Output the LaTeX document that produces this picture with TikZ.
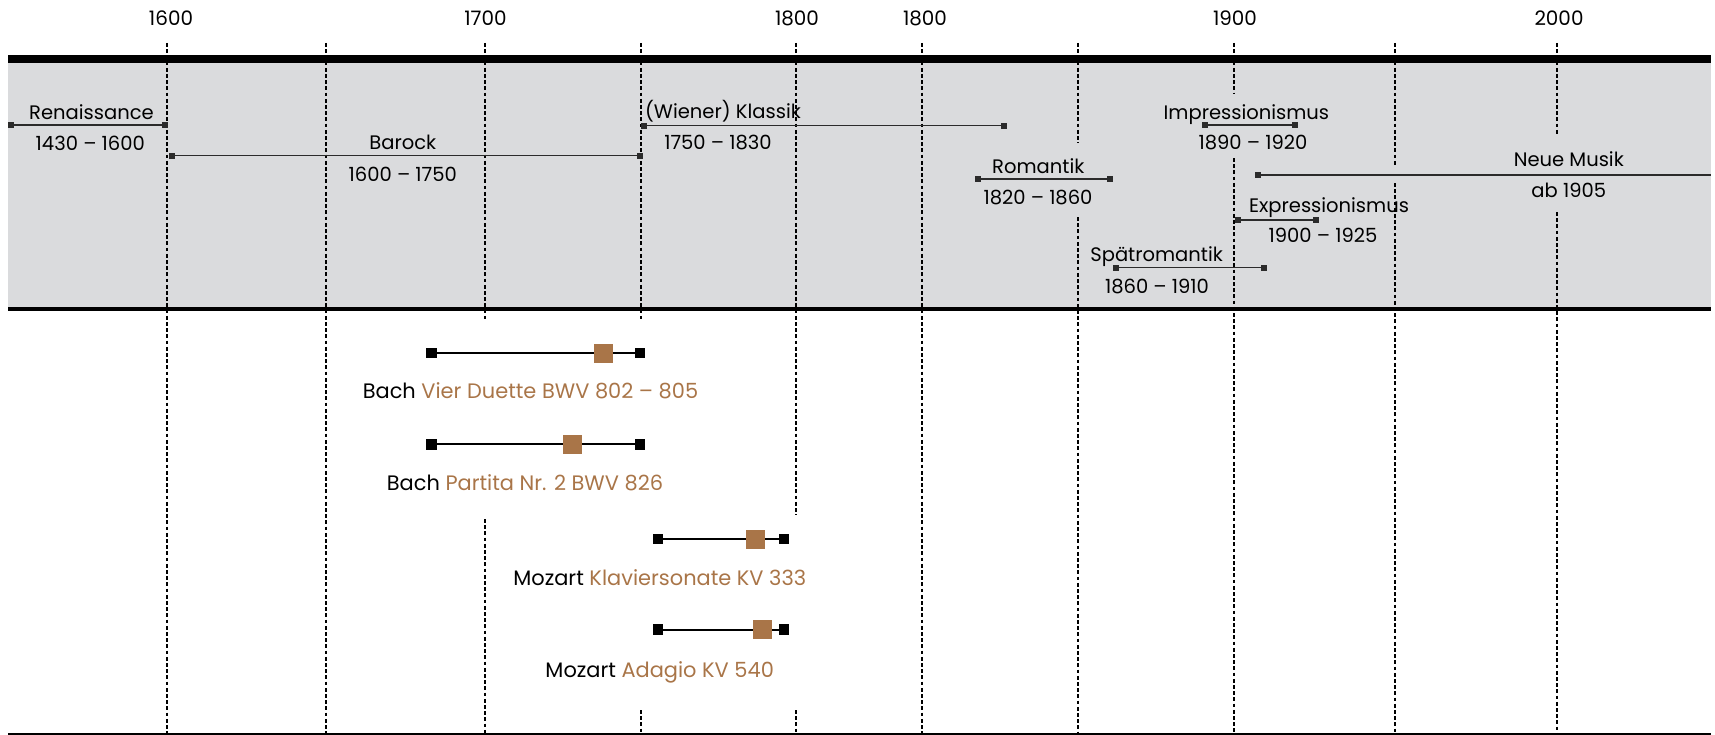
\documentclass[tikz,border=0pt]{standalone}
\usepackage{fontspec}
\setmainfont{Poppins}
\definecolor{brn}{HTML}{A97548}
\definecolor{bandgray}{HTML}{DADBDD}
\definecolor{per}{HTML}{2B2B2B}
\begin{document}
\begin{tikzpicture}[x=1bp,y=-1bp,
  gridline/.style={dash pattern=on 3.8bp off 2.4bp, line width=1.2bp},
  tick/.style={font=\fontsize{20}{24}\selectfont, anchor=base, inner sep=0},
  plabel/.style={font=\fontsize{19.6}{24}\selectfont, anchor=base, inner sep=0},
  wlabel/.style={font=\fontsize{21}{26}\selectfont, anchor=base, inner sep=0},
  pend/.style={fill=per, minimum size=6bp, inner sep=0},
  pline/.style={draw=per, line width=1.3bp},
  wend/.style={fill=black, minimum size=10.5bp, inner sep=0},
  wmark/.style={fill=brn, minimum size=19bp, inner sep=0},
  wline/.style={draw=black, line width=2bp}]
\useasboundingbox (0,0) rectangle (1715,735);
% band
\fill[bandgray] (8,62.7) rectangle (1711,307.3);
% dashed year lines (segments)
\foreach \x/\a/\b in {167/43/735, 326/43/735, 485/43/319, 485/519/735,
  641/43/319, 641/710/735, 796/43/515, 796/710/735, 922/43/735,
  1078/43/143, 1078/217/735, 1234/43/93, 1234/158/735,
  1395/43/167, 1395/183/735, 1557/43/135, 1557/212/735}
  \draw[gridline] (\x,\a) -- (\x,\b);
% bars
\fill (8,55) rectangle (1711,62.7);
\fill (8,307) rectangle (1711,311);
\fill (8,732.5) rectangle (1711,734.5);
% year ticks
\node[tick] (y1600) at (171,26) {1600};
\node[tick] (y1700) at (485.5,26) {1700};
\node[tick] (y1800a) at (797,26) {1800};
\node[tick] (y1800b) at (925,26) {1800};
\node[tick] (y1900) at (1235,26) {1900};
\node[tick] (y2000) at (1559,26) {2000};
% periods
\coordinate (renA) at (10.7,125); \coordinate (renB) at (164.8,125);
\coordinate (barA) at (171.8,155.7); \coordinate (barB) at (640,155.7);
\coordinate (klaA) at (643.8,125.7); \coordinate (klaB) at (1004.3,125.7);
\coordinate (romA) at (977.9,179); \coordinate (romB) at (1109.9,179);
\coordinate (sprA) at (1116.4,267.7); \coordinate (sprB) at (1264.2,267.7);
\coordinate (impA) at (1204.6,125); \coordinate (impB) at (1295,125);
\coordinate (neuA) at (1257.9,175); \coordinate (neuB) at (1711,175);
\coordinate (expA) at (1238.2,220); \coordinate (expB) at (1315.6,220);
\foreach \p in {ren,bar,kla,rom,spr,imp,neu,exp}
  \draw[pline] (\p A) -- (\p B);
\foreach \p in {ren,bar,kla,rom,spr,imp,neu,exp}
  \node[pend] (\p Lsq) at (\p A) {};
\foreach \p in {ren,bar,kla,rom,spr,imp,exp}
  \node[pend] (\p Rsq) at (\p B) {};
\node[plabel] (renT) at (91.5,119.3) {Renaissance};
\node[plabel] (renD) at (90.3,150.7) {1430 – 1600};
\node[plabel] (barT) at (402.8,150) {Barock};
\node[plabel] (barD) at (402.8,181) {1600 – 1750};
\node[plabel] (klaT) at (723,119) {(Wiener) Klassik};
\node[plabel] (klaD) at (718,150) {1750 – 1830};
\node[plabel] (romT) at (1038.3,173.3) {Romantik};
\node[plabel] (romD) at (1038,204) {1820 – 1860};
\node[plabel] (sprT) at (1156.6,261.7) {Spätromantik};
\node[plabel] (sprD) at (1157,293.3) {1860 – 1910};
\node[plabel] (impT) at (1246.4,119.3) {Impressionismus};
\node[plabel] (impD) at (1253,150) {1890 – 1920};
\node[plabel] (neuT) at (1568.8,166.7) {Neue Musik};
\node[plabel] (neuD) at (1568.8,197.7) {ab 1905};
\node[plabel] (expT) at (1329,212.3) {Expressionismus};
\node[plabel] (expD) at (1323,242.7) {1900 – 1925};
% works
\coordinate (w1A) at (431.3,353); \coordinate (w1B) at (640,353); \coordinate (w1M) at (603.3,353);
\coordinate (w2A) at (431.3,444.3); \coordinate (w2B) at (640,444.3); \coordinate (w2M) at (572.5,444.3);
\coordinate (w3A) at (658.2,539); \coordinate (w3B) at (784.1,539); \coordinate (w3M) at (755.8,539);
\coordinate (w4A) at (658.2,629.7); \coordinate (w4B) at (784.1,629.7); \coordinate (w4M) at (762,629.7);
\foreach \w in {w1,w2,w3,w4}{
  \draw[wline] (\w A) -- (\w B);
  \node[wend] (\w Lsq) at (\w A) {};
  \node[wend] (\w Rsq) at (\w B) {};
  \node[wmark] (\w Msq) at (\w M) {};
}
\node[wlabel] (w1T) at (530.5,398.3) {Bach \textcolor{brn}{Vier Duette BWV 802 – 805}};
\node[wlabel] (w2T) at (525,490.7) {Bach \textcolor{brn}{Partita Nr. 2 BWV 826}};
\node[wlabel] (w3T) at (659.8,585) {Mozart \textcolor{brn}{Klaviersonate KV 333}};
\node[wlabel] (w4T) at (659.7,677.7) {Mozart \textcolor{brn}{Adagio KV 540}};
\end{tikzpicture}
\end{document}
